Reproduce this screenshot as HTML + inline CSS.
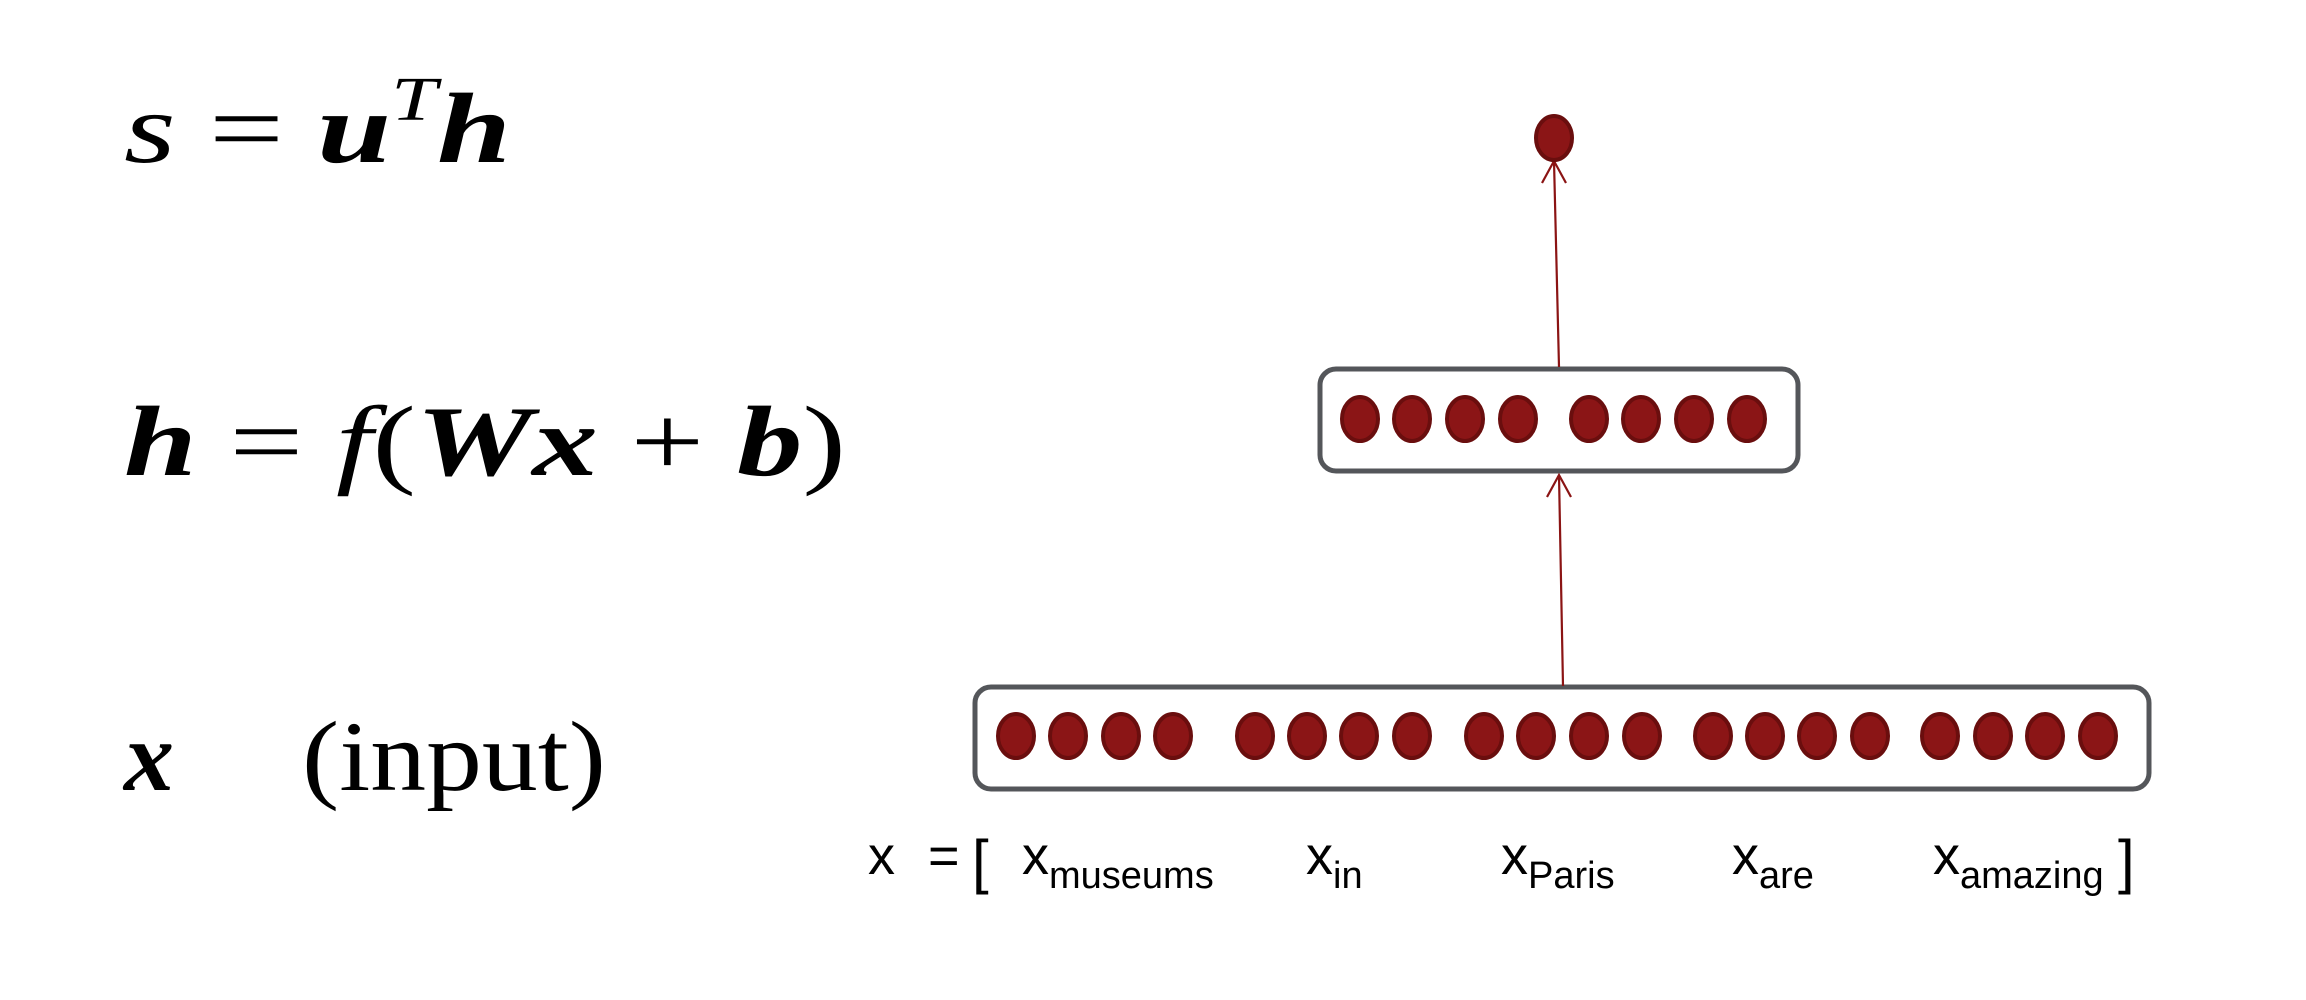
<!DOCTYPE html>
<html><head><meta charset="utf-8"><style>
html,body{margin:0;padding:0;background:#fff;}
svg{display:block;}
.m{font-family:"Liberation Serif",serif;font-size:100px;fill:#000;}
.lab{font-family:"Liberation Sans",sans-serif;fill:#000;}
</style></head><body>
<svg id="fig" width="2306" height="1000" viewBox="0 0 2306 1000" xmlns="http://www.w3.org/2000/svg">
<g>
<text class="m" x="124" y="162" textLength="387" lengthAdjust="spacingAndGlyphs"><tspan font-style="italic">s</tspan> = <tspan font-style="italic" font-weight="bold">u</tspan><tspan font-style="italic" font-size="62" dy="-42">T</tspan><tspan font-style="italic" font-weight="bold" dy="42">h</tspan></text>
<text class="m" x="124" y="475" textLength="722" lengthAdjust="spacingAndGlyphs"><tspan font-style="italic" font-weight="bold">h</tspan> = <tspan font-style="italic">f</tspan>(<tspan font-style="italic" font-weight="bold">Wx</tspan> + <tspan font-style="italic" font-weight="bold">b</tspan>)</text>
<text class="m" x="124" y="790" font-style="italic" font-weight="bold">x</text>
<text class="m" x="302" y="790" textLength="304" lengthAdjust="spacingAndGlyphs">(input)</text>
</g>
<g id="net"></g>
<g>
<text class="lab" x="868" y="874" font-size="54">x</text>
<text class="lab" x="928" y="874" font-size="54">=</text>
<text class="lab" x="972" y="882" font-size="60">[</text>
<text class="lab" x="1022" y="874" font-size="54">x<tspan font-size="38" dy="14">museums</tspan></text>
<text class="lab" x="1306" y="874" font-size="54">x<tspan font-size="38" dy="14">in</tspan></text>
<text class="lab" x="1501" y="874" font-size="54">x<tspan font-size="38" dy="14">Paris</tspan></text>
<text class="lab" x="1732" y="874" font-size="54">x<tspan font-size="38" dy="14">are</tspan></text>
<text class="lab" x="1933" y="874" font-size="54">x<tspan font-size="38" dy="14">amazing</tspan></text>
<text class="lab" x="2118" y="882" font-size="60">]</text>
</g>
</svg>
<script>
const inputNodeX = [1016,1068,1121,1173,1255,1307,1359,1412,1484,1536,1589,1642,1713,1765,1817,1870,1940,1993,2045,2098];
const hiddenNodeX = [1360,1412,1465,1518,1589,1641,1694,1747];
const outputNodeX = [1554];
const NS = 'http://www.w3.org/2000/svg';
const net = document.getElementById('net');
function mk(tag, attrs){const e=document.createElementNS(NS,tag);for(const k in attrs)e.setAttribute(k,attrs[k]);net.appendChild(e);return e;}
let b1 = mk('rect',{x:975,y:687,width:1174,height:102,rx:16,fill:'#fff',stroke:'#54565a','stroke-width':5});


let b2 = mk('rect',{x:1320,y:369,width:478,height:102,rx:16,fill:'#fff',stroke:'#54565a','stroke-width':5});


function arrow(x1,y1,x2,y2,name){
  const g=document.createElementNS(NS,'g');net.appendChild(g);
  
  
  const p=document.createElementNS(NS,'path');
  p.setAttribute('d',`M${x1},${y1} L${x2},${y2} M${x2-12},${y2+22} L${x2},${y2} L${x2+12},${y2+22}`);
  p.setAttribute('stroke','#8b1414');p.setAttribute('stroke-width','2.2');p.setAttribute('fill','none');
  g.appendChild(p);
}
arrow(1563,686,1559,475,'input-to-hidden-arrow');
arrow(1559,367,1554,161,'hidden-to-output-arrow');
function node(cx,cy,name){
  const e=mk('ellipse',{cx:cx,cy:cy,rx:18,ry:22,fill:'#8b1516',stroke:'#6a0e0e','stroke-width':4});
  
  
}
inputNodeX.forEach(x=>node(x,736,'input-neuron'));
hiddenNodeX.forEach(x=>node(x,419,'hidden-neuron'));
outputNodeX.forEach(x=>node(x,138,'output-neuron'));
</script>
</body></html>
